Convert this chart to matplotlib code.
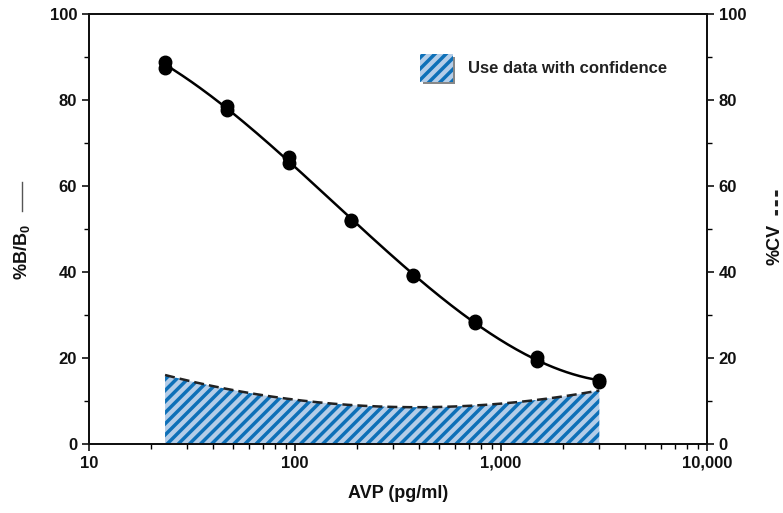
import numpy as np
import matplotlib
matplotlib.use("Agg")
import matplotlib.pyplot as plt
from matplotlib.lines import Line2D
from matplotlib.patches import Rectangle
from matplotlib.ticker import FixedLocator, LogLocator, MultipleLocator

plt.rcParams['font.family'] = ['Liberation Sans', 'DejaVu Sans']
plt.rcParams['font.weight'] = 'bold'
plt.rcParams['hatch.linewidth'] = 2.5

# data
conc = np.array([23.4, 46.9, 93.75, 187.5, 375, 750, 1500, 3000])  # pg/ml
bb0_rep1 = np.array([88.8, 78.6, 66.7, 52.1, 39.4, 28.5, 20.2, 14.9])
bb0_rep2 = np.array([87.4, 77.7, 65.3, 51.8, 39.0, 28.1, 19.3, 14.4])
cv = np.array([16.0, 12.9, 10.4, 9.1, 8.5, 8.9, 10.4, 12.4])

x_ticks = [10, 100, 1000, 10000]
x_ticklabels = ['10', '100', '1,000', '10,000']

blue = '#0d70b8'
light_blue = '#b4cde8'
W, H = 783, 513

fig = plt.figure(figsize=(W / 100, H / 100), dpi=100)
ax = fig.add_axes([89 / W, 69 / H, 618 / W, 430 / H])
ax2 = ax.twinx()

# smooth curves through the readings (fit in log-x)
lx = np.log10(conc)
xs = np.linspace(lx[0], lx[-1], 200)
bb0_mean = (bb0_rep1 + bb0_rep2) / 2
bb0_fit = np.polyval(np.polyfit(lx, bb0_mean, 3), xs)
cv_fit = np.polyval(np.polyfit(lx, cv, 3), xs)

ax.fill_between(10 ** xs, 0, cv_fit, facecolor=light_blue, edgecolor=blue,
                hatch='///', linewidth=0, zorder=1)
ax.plot(10 ** xs, cv_fit, color='#222222', ls=(0, (4, 2)), lw=1.8, zorder=2)
ax.plot(10 ** xs, bb0_fit, color='black', lw=1.8, zorder=3)
ax.plot(conc, bb0_rep1, 'o', color='black', ms=9, zorder=4)
ax.plot(conc, bb0_rep2, 'o', color='black', ms=9, zorder=4)

ax.set_xscale('log')
ax.set_xlim(10, 10000)
ax.set_ylim(0, 100)
ax2.set_ylim(0, 100)
ax.xaxis.set_major_locator(FixedLocator(x_ticks))
ax.set_xticklabels(x_ticklabels)
ax.xaxis.set_minor_locator(LogLocator(base=10, subs=np.arange(2, 10)))
ax.xaxis.set_minor_formatter(plt.NullFormatter())
for a in (ax, ax2):
    a.yaxis.set_major_locator(MultipleLocator(20))
    a.yaxis.set_minor_locator(MultipleLocator(10))
    a.tick_params(which='major', direction='out', length=5, width=1.2,
                  labelsize=12, colors='#111111')
    a.tick_params(which='minor', direction='out', length=3.5, width=1.0)
    for s in a.spines.values():
        s.set_linewidth(1.4)
        s.set_color('#111111')
for lab in ax.get_xticklabels() + ax.get_yticklabels() + ax2.get_yticklabels():
    lab.set_fontweight('bold')

ax.set_xlabel('AVP (pg/ml)', fontsize=13, fontweight='bold', labelpad=10,
              color='#111111')

# axis titles, placed in figure pixels
fig.text(22 / W, 1 - 252 / H, '%B/B$_\\mathregular{0}$', rotation=90,
         ha='center', va='center', fontsize=13, fontweight='bold', color='#111111')
fig.add_artist(Line2D([22 / W, 22 / W], [1 - 182 / H, 1 - 211 / H],
                      color='#555555', lw=1.0))
fig.text(775 / W, 1 - 244 / H, '%CV', rotation=90,
         ha='center', va='center', fontsize=13, fontweight='bold', color='#111111')
fig.add_artist(Line2D([776 / W, 776 / W], [1 - 190 / H, 1 - 215 / H],
                      color='#222222', lw=2.2, ls=(0, (2.0, 1.2))))

# legend swatch with a small shadow
ax.add_patch(Rectangle((0.540, 0.838), 0.053, 0.063, transform=ax.transAxes,
                       facecolor='#888888', edgecolor='none', zorder=5, clip_on=False))
ax.add_patch(Rectangle((0.536, 0.843), 0.053, 0.063, transform=ax.transAxes,
                       facecolor=light_blue, edgecolor=blue, hatch='///',
                       linewidth=0, zorder=6, clip_on=False))
ax.text(0.613, 0.873, 'Use data with confidence', transform=ax.transAxes,
        fontsize=12, fontweight='bold', va='center', ha='left', color='#222222')

fig.savefig('out.png', dpi=100)
